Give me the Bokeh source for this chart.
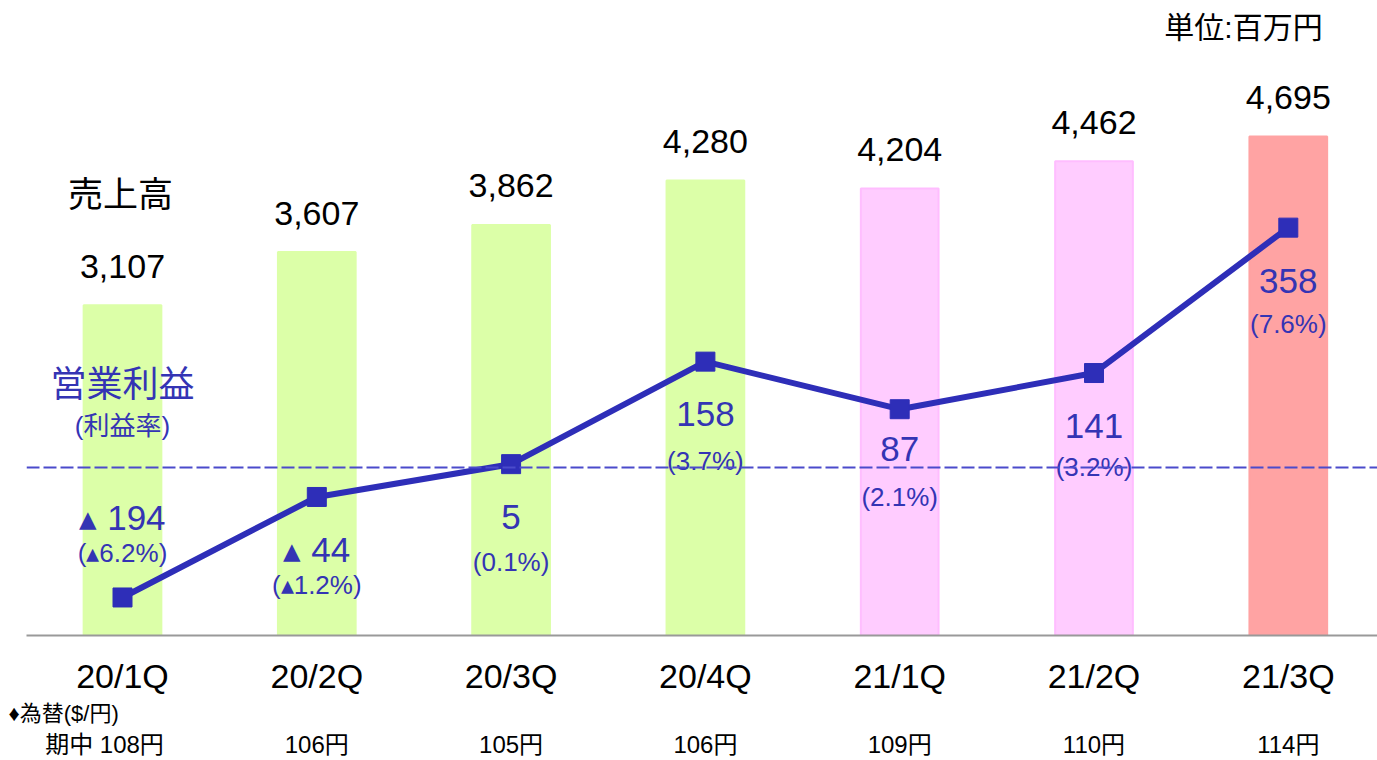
from bokeh.plotting import figure
from bokeh.models import Range1d, FixedTicker, Span, Label, ColumnDataSource, LinearAxis, Title
from bokeh.core.properties import value
from bokeh.embed import file_html
from bokeh.resources import INLINE

# ---- data ----
categories = ["20/1Q", "20/2Q", "20/3Q", "20/4Q", "21/1Q", "21/2Q", "21/3Q"]
sales = [3107, 3607, 3862, 4280, 4204, 4462, 4695]          # 売上高 (百万円)
profit = [-194, -44, 5, 158, 87, 141, 358]                   # 営業利益 (百万円)
margin = [-6.2, -1.2, 0.1, 3.7, 2.1, 3.2, 7.6]               # 利益率 (%)
fx_rate = [108, 106, 105, 106, 109, 110, 114]                # 為替 期中 ($/円)

# ---- styles ----
bar_fill = ["#DCFFA8", "#DCFFA8", "#DCFFA8", "#DCFFA8", "#FFCCFF", "#FFCCFF", "#FFA3A3"]
bar_line = ["#DCFFA8", "#DCFFA8", "#DCFFA8", "#DCFFA8", "#FFBDFF", "#FFBDFF", "#FFA3A3"]
main_off = [-80, 53, 53, 52, 40, 53, 53]     # px offset of profit value label from marker
pct_off = [-44, 88, 98, 99, 88, 94, 96]      # px offset of margin label from marker

FONT = "'Liberation Sans', 'Noto Sans CJK JP', sans-serif"
BLUE_LINE = "#2E2EB8"
BLUE_TEXT = "#3434B4"
NEG = "\u25B4"   # small black triangle used as minus sign

W, H = 1377, 760
LEFT, TOP, BOTTOM = 26, 0, 635
SALES_PX = 0.1063   # px per sales unit
PROF_PX = 0.670     # px per profit unit
PROF_ZERO = 467     # pixel row of profit 0
STEP = 194.3        # px per category
X0 = 122            # pixel column of first category

x_start = (LEFT - X0) / STEP
x_end = (W - X0) / STEP
y_end = (BOTTOM - TOP) / SALES_PX
py_start = -(BOTTOM - PROF_ZERO) / PROF_PX
py_end = (PROF_ZERO - TOP) / PROF_PX


def ydata(py):
    return (BOTTOM - py) / SALES_PX


def xdata(px):
    return (px - X0) / STEP


p = figure(width=W, height=H, output_backend="svg", toolbar_location=None,
           x_range=Range1d(x_start, x_end), y_range=Range1d(0, y_end),
           min_border_left=LEFT, min_border_right=0, min_border_top=TOP,
           min_border_bottom=H - BOTTOM)
p.extra_y_ranges = {"profit": Range1d(py_start, py_end)}
p.outline_line_color = None
p.xgrid.visible = False
p.ygrid.visible = False
p.yaxis.visible = False
p.background_fill_color = "white"
p.border_fill_color = "white"

xs = list(range(len(categories)))

xa = p.xaxis[0]
xa.ticker = FixedTicker(ticks=xs)
xa.major_label_overrides = {i: c for i, c in enumerate(categories)}
xa.major_tick_line_color = None
xa.minor_tick_line_color = None
xa.axis_line_color = "#999999"
xa.axis_line_width = 2
xa.major_label_text_font = FONT
xa.major_label_text_font_size = "34px"
xa.major_label_text_color = "black"
xa.major_label_standoff = 15

# FX caption and FX row below the category axis
p.add_layout(Title(text="♦為替($/円)", align="left", offset=-18, standoff=2,
                   text_font=FONT, text_font_size="22px", text_font_style="normal",
                   text_color="black"), "below")
fx_axis = LinearAxis(ticker=FixedTicker(ticks=xs))
fx_axis.major_label_overrides = {
    i: (("期中 " if i == 0 else "") + f"{r}円" + ("\u2002\u3000" if i == 0 else ""))
    for i, r in enumerate(fx_rate)
}
fx_axis.axis_line_color = None
fx_axis.major_tick_line_color = None
fx_axis.minor_tick_line_color = None
fx_axis.major_label_text_font = FONT
fx_axis.major_label_text_font_size = "24px"
fx_axis.major_label_text_color = "black"
fx_axis.major_label_standoff = -2
p.add_layout(fx_axis, "below")

src = ColumnDataSource(dict(
    x=xs, sales=sales, profit=profit,
    fill=bar_fill, line=bar_line,
    sales_txt=[f"{v:,}" for v in sales],
    main_txt=[(f"{NEG} {abs(v)}" if v < 0 else str(v)) for v in profit],
    pct_txt=[(f"({NEG}{abs(m):.1f}%)" if m < 0 else f"({m:.1f}%)") for m in margin],
    main_off=main_off, pct_off=pct_off,
))

p.vbar(x="x", top="sales", width=0.40, bottom=0, source=src,
       fill_color="fill", line_color="line", line_width=2)

p.text(x="x", y="sales", text="sales_txt", source=src, y_offset=-39,
       text_align="center", text_baseline="middle", text_color="black",
       text_font=value(FONT), text_font_size="34px")

p.add_layout(Span(location=0, dimension="width", y_range_name="profit",
                  line_color="#4B4BCB", line_width=2, line_dash="13 4"))

p.line(x="x", y="profit", source=src, y_range_name="profit",
       line_color=BLUE_LINE, line_width=6)
p.scatter(x="x", y="profit", source=src, y_range_name="profit", marker="square",
          size=19, fill_color=BLUE_LINE, line_color=BLUE_LINE)

p.text(x="x", y="profit", text="main_txt", source=src, y_range_name="profit",
       y_offset="main_off", text_align="center", text_baseline="middle",
       text_color=BLUE_TEXT, text_font=value(FONT), text_font_size="35px")
p.text(x="x", y="profit", text="pct_txt", source=src, y_range_name="profit",
       y_offset="pct_off", text_align="center", text_baseline="middle",
       text_color=BLUE_TEXT, text_font=value(FONT), text_font_size="26px")

# side titles
p.add_layout(Label(x=xdata(120), y=ydata(194), text="売上高", text_align="center",
                   text_baseline="middle", text_font=FONT, text_font_size="35px",
                   text_color="black"))
p.add_layout(Label(x=xdata(122), y=ydata(384), text="営業利益", text_align="center",
                   text_baseline="middle", text_font=FONT, text_font_size="36px",
                   text_color=BLUE_TEXT))
p.add_layout(Label(x=xdata(122), y=ydata(425), text="(利益率)", text_align="center",
                   text_baseline="middle", text_font=FONT, text_font_size="26px",
                   text_color=BLUE_TEXT))
p.add_layout(Label(x=xdata(1243), y=ydata(27), text="単位:百万円", text_align="center",
                   text_baseline="middle", text_font=FONT, text_font_size="30px",
                   text_color="black"))

open("out.html", "w").write(file_html(p, INLINE))
